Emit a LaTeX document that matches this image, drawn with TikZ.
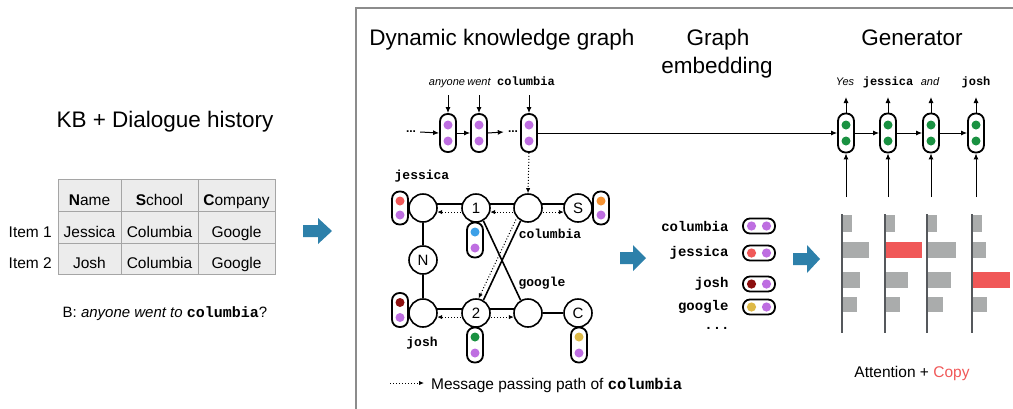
\documentclass[tikz,border=0pt]{standalone}
\usepackage{fontspec}
\setmainfont{Liberation Sans}
\setmonofont{Liberation Mono}
\usetikzlibrary{arrows.meta,calc}
\definecolor{pur}{RGB}{190,110,225}
\definecolor{redd}{RGB}{240,88,88}
\definecolor{orng}{RGB}{245,146,50}
\definecolor{blu}{RGB}{60,160,232}
\definecolor{dred}{RGB}{140,15,15}
\definecolor{grn}{RGB}{25,145,65}
\definecolor{goldc}{RGB}{222,185,70}
\definecolor{barg}{RGB}{170,172,172}
\definecolor{axisg}{RGB}{85,88,92}
\definecolor{arrb}{RGB}{45,128,170}
\definecolor{tabfill}{RGB}{236,236,236}
\definecolor{tabline}{RGB}{165,165,165}
\definecolor{framec}{RGB}{140,140,140}
\newcommand{\fs}[1]{\fontsize{#1}{#1}\selectfont}
\newcommand{\mb}[1]{{\ttfamily\bfseries #1}}
% name, position, height, dot offset, top colour, bottom colour
\newcommand{\vcapsule}[6]{%
  \node[vcap, minimum height=#3pt] (#1) at (#2) {};
  \fill[#5] ([yshift=#4pt]#1.center) circle (4.5pt);
  \fill[#6] ([yshift=-#4pt]#1.center) circle (4.5pt);}
\newcommand{\hcapsule}[4]{%
  \node[hcap] (#1) at (#2) {};
  \fill[#3] ([xshift=-7.5pt]#1.center) circle (4.6pt);
  \fill[#4] ([xshift=7.5pt]#1.center) circle (4.6pt);}
\tikzset{
  vcap/.style={draw, line width=1.8pt, rounded corners=7.5pt, minimum width=16pt, inner sep=0pt, fill=white},
  hcap/.style={draw, line width=1.8pt, rounded corners=7pt, minimum width=32pt, minimum height=15pt, inner sep=0pt, fill=white},
  gnode/.style={circle, draw, line width=1.6pt, minimum size=28pt, inner sep=0pt, fill=white, font=\fs{15}},
  edge/.style={line width=1.6pt},
  msg/.style={dotted, line width=1pt, -{Latex[length=5pt,width=4.5pt]}},
  arr/.style={line width=1pt, -{Latex[length=6pt,width=5pt]}},
  title/.style={font=\fs{22.5}, anchor=base},
  cell/.style={font=\fs{15.5}, anchor=base, inner sep=0pt},
  glabel/.style={font=\fs{13}\ttfamily\bfseries},
  elabel/.style={font=\fs{14}\ttfamily\bfseries, anchor=east},
  tlabel/.style={anchor=base, inner sep=0pt},
  bar/.style={fill=barg},
  redbar/.style={fill=redd},
  blockarrow/.style={fill=arrb}
}
\begin{document}
\begin{tikzpicture}[x=1pt,y=-1pt]
\useasboundingbox (0,0) rectangle (1013,408);
% frame
\draw[framec, line width=1.5pt] (356,410) -- (356,8) -- (1015,8);

% ---------------- left panel ----------------
\node[title] (kbt) at (165,127) {KB + Dialogue history};
\fill[tabfill] (58,179) rectangle (275,274);
\draw[tabline, line width=0.8pt] (58,179) rectangle (275,274);
\draw[tabline, line width=0.8pt] (121,179) -- (121,274) (198,179) -- (198,274)
  (58,211) -- (275,211) (58,243) -- (275,243);
\node[cell] (h1) at (89.5,205) {\textbf{N}ame};
\node[cell] (h2) at (159.5,205) {\textbf{S}chool};
\node[cell] (h3) at (236.5,205) {\textbf{C}ompany};
\node[cell] (r11) at (89.5,237) {Jessica};
\node[cell] (r12) at (159.5,237) {Columbia};
\node[cell] (r13) at (236.5,237) {Google};
\node[cell] (r21) at (89.5,268) {Josh};
\node[cell] (r22) at (159.5,268) {Columbia};
\node[cell] (r23) at (236.5,268) {Google};
\node[cell, anchor=base east] (i1) at (52,237) {Item 1};
\node[cell, anchor=base east] (i2) at (52,268) {Item 2};
\node[font=\fs{15}, anchor=base] (bq) at (165,317) {B: \textit{anyone went to} \mb{columbia}?};
\fill[blockarrow] (303,225) -- (318,225) -- (318,218) -- (332,231) -- (318,244) -- (318,237) -- (303,237) -- cycle;

% ---------------- titles ----------------
\node[title] (t1) at (502,45) {Dynamic knowledge graph};
\node[title] (t2) at (718,45) {Graph};
\node[title] (t3) at (717,73) {embedding};
\node[title] (t4) at (912,45) {Generator};

% ---------------- encoder sequence ----------------
\node[tlabel, font=\fs{11}\itshape] (w1) at (447,85) {anyone};
\node[tlabel, font=\fs{11}\itshape] (w2) at (479,85) {went};
\node[tlabel, font=\fs{12}\ttfamily\bfseries] (w3) at (526,85) {columbia};
\vcapsule{c1}{448,133}{38}{8}{pur}{pur}
\vcapsule{c2}{479,133}{38}{8}{pur}{pur}
\vcapsule{c3}{529,133}{38}{8}{pur}{pur}
\node[font=\fs{12}\bfseries, inner sep=0pt] (d1) at (411,132) {...};
\node[font=\fs{12}\bfseries, inner sep=0pt] (d2) at (513,132) {...};
\coordinate (a1) at (448,95);
\coordinate (a2) at (479,95);
\coordinate (a3) at (529,95);
\draw[arr] (a1) -- (c1.north);
\draw[arr] (a2) -- (c2.north);
\draw[arr] (a3) -- (c3.north);
\draw[arr] ([xshift=4pt]d1.east) -- (c1.west);
\draw[arr] (c1.east) -- (c2.west);
\draw[arr] (c2.east) -- ([xshift=-4pt]d2.west);

% ---------------- graph ----------------
\node[gnode] (jes) at (423,208) {};
\node[gnode] (n1) at (476,208) {1};
\node[gnode] (col) at (528,208) {};
\node[gnode] (S) at (578,208) {S};
\node[gnode] (N) at (423,260) {N};
\node[gnode] (josh) at (423,313) {};
\node[gnode] (n2) at (476,313) {2};
\node[gnode] (goo) at (528,313) {};
\node[gnode] (C) at (578,313) {C};
\draw[edge] (jes.16) -- (n1.164);
\draw[edge] (n1.16) -- (col.164);
\draw[edge] (col.16) -- (S.164);
\draw[edge] (josh.16) -- (n2.164);
\draw[edge] (n2.16) -- (goo.164);
\draw[edge] (goo) -- (C);
\draw[edge] (jes) -- (N);
\draw[edge] (N) -- (josh);
\draw[edge] (n1.-60) -- (goo.120);
\draw[edge] (col.240) -- (n2.60);
\draw[msg, shorten <=1pt] (n1.196) -- (jes.-16);
\draw[msg, shorten <=1pt] (col.196) -- (n1.-16);
\draw[msg, shorten <=1pt] (col.-16) -- (S.196);
\draw[msg, shorten <=1pt] (n2.196) -- (josh.-16);
\draw[msg, shorten <=1pt] (n2.-16) -- (goo.196);
\draw[msg, shorten <=2pt] (col.221) -- (n2.80);
\draw[msg] (c3.south) -- (col.north);
\vcapsule{cj}{400,208}{33}{7}{redd}{pur}
\vcapsule{cs}{601,208}{33}{7}{orng}{pur}
\vcapsule{c1n}{475,240}{35}{8}{blu}{pur}
\vcapsule{cjo}{400,310}{34}{7.5}{dred}{pur}
\vcapsule{c2n}{475,345}{35}{8}{grn}{pur}
\vcapsule{cc}{579,345}{35}{8}{goldc}{pur}
\node[glabel] (ljes) at (422,176) {jessica};
\node[glabel] (lcol) at (550,234) {columbia};
\node[glabel] (lgoo) at (542,283) {google};
\node[glabel] (ljosh) at (422,343) {josh};
% legend
\coordinate (lg1) at (390,383);
\coordinate (lg2) at (424,383);
\draw[msg] (lg1) -- (lg2);
\node[font=\fs{15.5}, anchor=base west, inner sep=0pt] (lgt) at (431,389) {Message passing path of \mb{columbia}};
\fill[blockarrow] (620,252) -- (633,252) -- (633,245) -- (646,258) -- (633,271) -- (633,264) -- (620,264) -- cycle;

% ---------------- graph embedding ----------------
\node[elabel] (ec) at (732,226) {columbia};
\node[elabel] (ej) at (732,253) {jessica};
\node[elabel] (ejo) at (732,284) {josh};
\node[elabel] (eg) at (732,307) {google};
\node[font=\fs{14}\ttfamily\bfseries, inner sep=0pt] (edots) at (717,328) {...};
\hcapsule{hc}{759,226}{pur}{pur}
\hcapsule{hj}{759,253}{redd}{pur}
\hcapsule{hjo}{759,284}{dred}{pur}
\hcapsule{hg}{759,307}{goldc}{pur}
\fill[blockarrow] (793,253) -- (807,253) -- (807,245) -- (820,259) -- (807,273) -- (807,265) -- (793,265) -- cycle;

% ---------------- generator ----------------
\vcapsule{g1}{846,133}{39}{8}{grn}{grn}
\vcapsule{g2}{888,133}{39}{8}{grn}{grn}
\vcapsule{g3}{931,133}{39}{8}{grn}{grn}
\vcapsule{g4}{976,133}{39}{8}{grn}{grn}
\draw[arr] (c3.east) -- (g1.west);
\draw[arr] (g1.east) -- (g2.west);
\draw[arr] (g2.east) -- (g3.west);
\draw[arr] (g3.east) -- (g4.west);
\node[tlabel, font=\fs{11}\itshape] (y1) at (845,85) {Yes};
\node[tlabel, font=\fs{12}\ttfamily\bfseries] (y2) at (888,85) {jessica};
\node[tlabel, font=\fs{11}\itshape] (y3) at (930,85) {and};
\node[tlabel, font=\fs{12}\ttfamily\bfseries] (y4) at (976,85) {josh};
\foreach \i/\x in {1/846,2/888,3/931,4/976}{
  \coordinate (gt\i) at (\x,97);
  \coordinate (gb\i) at (\x,197);
  \draw[arr] (g\i.north) -- (gt\i);
  \draw[arr] (gb\i) -- (g\i.south);
}
% attention bars
\foreach \x/\wa/\wb/\wc/\wd/\sb/\sc in {842/10/27/18/15/bar/bar, 885/10/37/23/15/redbar/bar, 927/10/29/24/16/bar/bar, 972/10/14/38/15/bar/redbar}{
  \fill[bar] (\x,215) rectangle ++(\wa,17);
  \fill[\sb] (\x,242) rectangle ++(\wb,16);
  \fill[\sc] (\x,272) rectangle ++(\wc,16);
  \fill[bar] (\x,297) rectangle ++(\wd,15);
  \draw[axisg, line width=1.8pt] (\x,214) -- (\x,333);
}
\node[font=\fs{15.5}, anchor=base] (att) at (912,377) {Attention + \textcolor{redd}{Copy}};
\end{tikzpicture}
\end{document}
